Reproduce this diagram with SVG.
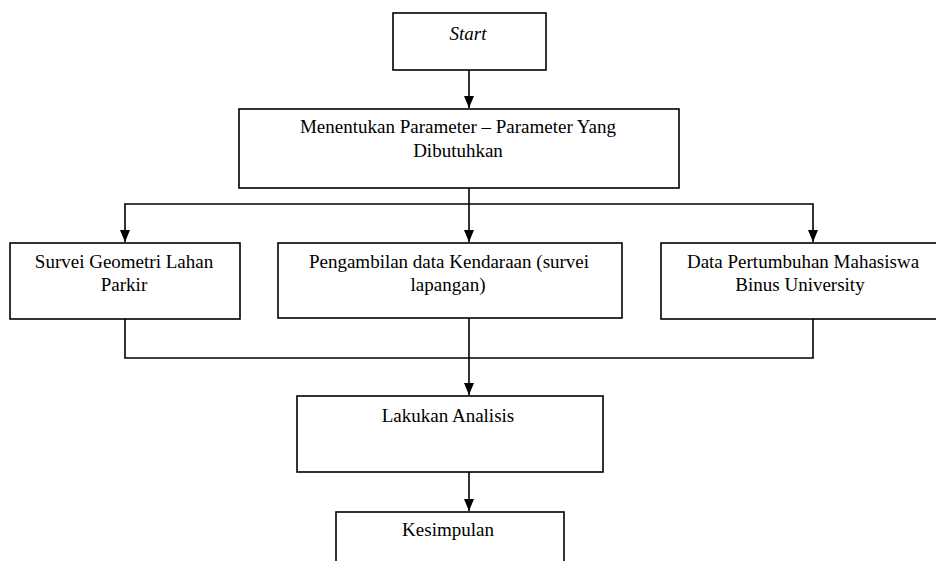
<svg xmlns="http://www.w3.org/2000/svg" width="936" height="561" viewBox="0 0 936 561">
<style>
.box{fill:#fff;stroke:#000;stroke-width:1.6}
.t{font-family:"Liberation Serif","Times New Roman",serif;font-size:19px;fill:#000;text-anchor:middle}
.c{fill:none;stroke:#000;stroke-width:1.6}
</style>
<defs>
<marker id="ah" markerWidth="12" markerHeight="10" refX="12" refY="5" orient="auto" markerUnits="userSpaceOnUse" viewBox="0 0 12 10">
<path d="M0,0 L12,5 L0,10 Z" fill="#000"/>
</marker>
</defs>
<rect width="936" height="561" fill="#fff"/>
<g id="connectors">
<line class="c" x1="469" y1="70" x2="469" y2="108" marker-end="url(#ah)"/>
<line class="c" x1="469" y1="188" x2="469" y2="242" marker-end="url(#ah)"/>
<polyline class="c" points="469,204 125,204 125,242" marker-end="url(#ah)"/>
<polyline class="c" points="469,204 813,204 813,242" marker-end="url(#ah)"/>
<polyline class="c" points="125,319 125,358 813,358 813,319"/>
<line class="c" x1="469" y1="318" x2="469" y2="395" marker-end="url(#ah)"/>
<line class="c" x1="469" y1="472" x2="469" y2="511" marker-end="url(#ah)"/>
</g>
<g id="start">
<rect class="box" x="393" y="13" width="153" height="57"/>
<text class="t" x="468" y="40" font-style="italic">Start</text>
</g>
<g id="parameter">
<rect class="box" x="239" y="109" width="440" height="79"/>
<text class="t" x="458" y="133">Menentukan Parameter – Parameter Yang</text>
<text class="t" x="458" y="157">Dibutuhkan</text>
</g>
<g id="survei">
<rect class="box" x="10" y="243" width="230" height="76"/>
<text class="t" x="124" y="268">Survei Geometri Lahan</text>
<text class="t" x="124" y="291">Parkir</text>
</g>
<g id="pengambilan">
<rect class="box" x="278" y="243" width="344" height="75"/>
<text class="t" x="449" y="268">Pengambilan data Kendaraan (survei</text>
<text class="t" x="448" y="291">lapangan)</text>
</g>
<g id="pertumbuhan">
<rect class="box" x="661" y="243" width="300" height="76"/>
<text class="t" x="803" y="268">Data Pertumbuhan Mahasiswa</text>
<text class="t" x="800" y="291">Binus University</text>
</g>
<g id="analisis">
<rect class="box" x="297" y="396" width="306" height="76"/>
<text class="t" x="448" y="422">Lakukan Analisis</text>
</g>
<g id="kesimpulan">
<rect class="box" x="336" y="512" width="228" height="60"/>
<text class="t" x="448" y="536">Kesimpulan</text>
</g>
</svg>
